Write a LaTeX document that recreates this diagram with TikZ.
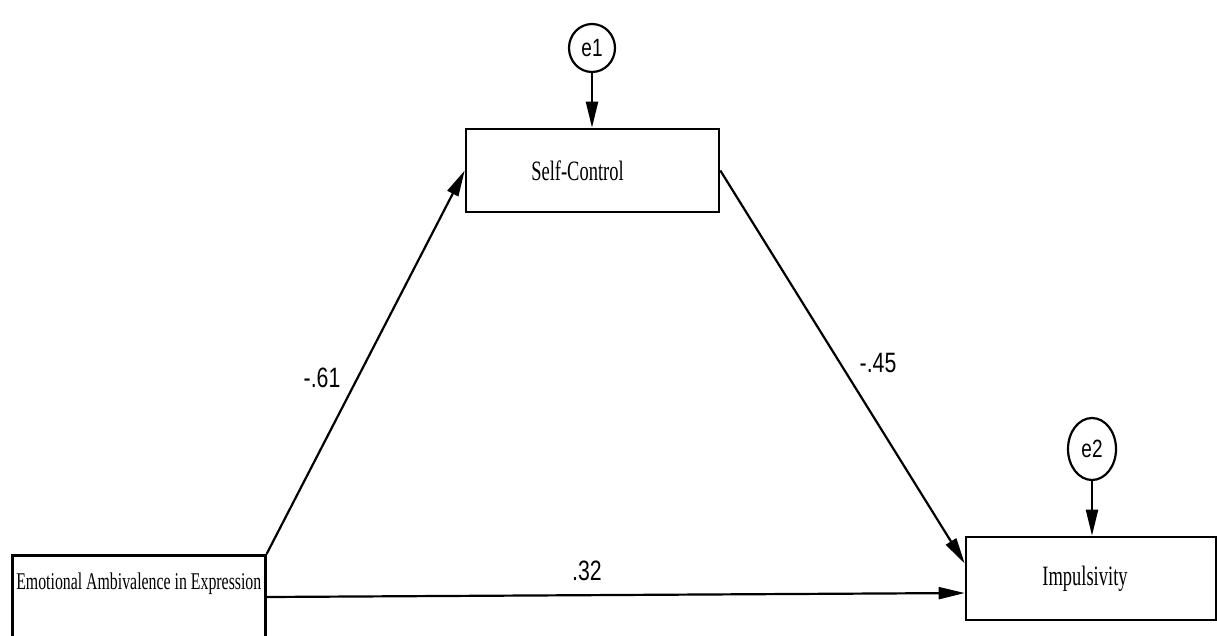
\documentclass[tikz,border=0pt]{standalone}
\usepackage{fontspec}
\setmainfont{Liberation Serif}
\newfontfamily\tnr[FakeStretch=0.66]{Liberation Serif}
\newfontfamily\arl[FakeStretch=0.76]{Liberation Sans}
\usetikzlibrary{arrows.meta,shapes.geometric,calc}
\begin{document}
\begin{tikzpicture}[x=1pt,y=-1pt,
  box/.style={draw, line width=2.6pt, inner sep=0pt, font=\tnr\fontsize{28}{32}\selectfont},
  err/.style={draw, ellipse, line width=2.2pt, inner sep=0pt, font=\arl\fontsize{25}{28}\selectfont},
  conn/.style={line width=2.2pt, -{Triangle[length=26pt,width=12pt]}},
  coef/.style={font=\arl\fontsize{28}{32}\selectfont, inner sep=0pt}]
\useasboundingbox (0,0) rectangle (1217,635);
\clip (0,0) rectangle (1217,635);
\node[box, anchor=north west, minimum width=253pt, text height=34pt, text depth=92pt,
      font=\tnr\fontsize{24}{28}\selectfont] (emo) at (11,554) {Emotional Ambivalence in Expression};
\node[box, minimum width=253pt, minimum height=83pt] (sc) at (592.5,170.5) {\hspace*{-30pt}Self-Control};
\node[box, minimum width=250pt, minimum height=83pt] (imp) at (1091,578.5) {\hspace*{-12pt}Impulsivity};
\node[err, minimum width=46pt, minimum height=48pt] (e1) at (592,48) {e1};
\node[err, minimum width=48pt, minimum height=62pt] (e2) at (1092,449) {e2};
\draw[conn] (e1.south) -- (e1.south |- sc.north);
\draw[conn] (e2.south) -- (e2.south |- imp.north);
\draw[conn] (emo.north east) -- (sc.west);
\draw[conn] (sc.east) -- ($(imp.west)+(0,-15)$);
\draw[conn] ($(emo.north east)+(0,43)$) -- ($(imp.west)+(0,14.5)$);
\node[coef] (c1) at (322,378) {-.61};
\node[coef] (c2) at (878,363) {-.45};
\node[coef] (c3) at (587,571) {.32};
\end{tikzpicture}
\end{document}
